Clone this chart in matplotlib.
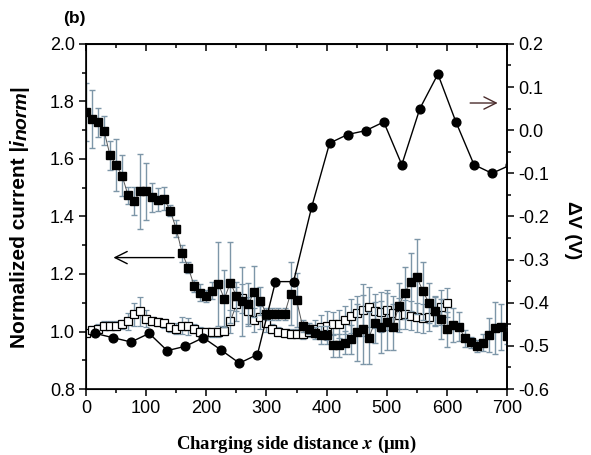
import numpy as np
import matplotlib.pyplot as plt
from matplotlib.ticker import MultipleLocator

plt.rcParams['font.family'] = ['Liberation Sans', 'DejaVu Sans']

# filled squares: normalized current, every 10 um
x_fill = np.arange(0, 701, 10)
i_fill = [1.763, 1.739, 1.728, 1.698, 1.612, 1.580, 1.542, 1.473, 1.454, 1.487,
          1.487, 1.467, 1.458, 1.461, 1.420, 1.357, 1.272, 1.222, 1.158, 1.135,
          1.123, 1.142, 1.165, 1.114, 1.170, 1.123, 1.105, 1.097, 1.139, 1.106,
          1.060, 1.060, 1.060, 1.060, 1.131, 1.110, 1.019, 1.010, 0.995, 0.988,
          0.988, 0.952, 0.953, 0.961, 0.973, 0.997, 1.008, 0.978, 1.031, 1.016,
          1.034, 1.014, 1.089, 1.135, 1.173, 1.190, 1.140, 1.100, 1.070, 1.044,
          1.007, 1.022, 1.017, 0.976, 0.962, 0.949, 0.961, 0.988, 1.011, 1.017,
          0.986]
e_fill = [.10, .10, .05, .05, .05, .09, .07, .03, .05, .13,
          .10, .05, .04, .04, .02, .03, .03, .02, .02, .03,
          .02, .03, .145, .10, .14, .05, .12, .07, .09, .05,
          .02, .02, .02, .02, .11, .095, .02, .02, .02, .03,
          .03, .04, .04, .04, .05, .10, .12, .09, .07, .09,
          .10, .08, .08, .09, .10, .13, .10, .07, .05, .07,
          .06, .06, .05, .03, .02, .02, .03, .06, .09, .08,
          .03]

# open squares: normalized current, every 10 um up to 600
x_open = np.arange(0, 601, 10)
i_open = [0.995, 1.005, 1.010, 1.020, 1.020, 1.020, 1.025, 1.035, 1.060, 1.070,
          1.045, 1.037, 1.033, 1.028, 1.015, 1.010, 1.020, 1.018, 1.010, 1.000,
          0.998, 0.997, 0.997, 1.003, 1.035, 1.095, 1.115, 1.070, 1.040, 1.050,
          1.030, 1.010, 1.000, 0.995, 0.993, 0.993, 0.990, 1.000, 1.010, 1.016,
          1.020, 1.027, 1.026, 1.040, 1.054, 1.065, 1.075, 1.085, 1.072, 1.068,
          1.075, 1.065, 1.058, 1.060, 1.055, 1.050, 1.046, 1.052, 1.073, 1.084,
          1.100]
e_open = [.01, .015, .015, .015, .015, .015, .015, .03, .04, .05,
          .03, .015, .015, .015, .015, .02, .03, .03, .015, .015,
          .015, .015, .015, .015, .04, .06, .05, .05, .04, .04,
          .03, .015, .015, .015, .015, .015, .015, .02, .03, .04,
          .05, .04, .05, .05, .06, .06, .09, .07, .06, .07,
          .07, .06, .06, .05, .05, .05, .05, .05, .05, .06,
          .05]

# filled circles: potential difference, right axis
x_dv = [15, 45, 75, 105, 135, 165, 195, 225, 255, 285, 315, 345,
        375, 405, 435, 465, 495, 525, 555, 585, 615, 645, 675, 705]
dv = [-0.471, -0.481, -0.491, -0.471, -0.511, -0.501, -0.481, -0.510,
      -0.540, -0.520, -0.351, -0.351, -0.179, -0.030, -0.010, -0.001,
      0.019, -0.080, 0.050, 0.130, 0.019, -0.080, -0.100, -0.081]

fig = plt.figure(figsize=(5.91, 4.55), dpi=100)
ax = fig.add_axes([0.1455, 0.145, 0.7125, 0.7585])
ebc = '#7d96a8'

ax.errorbar(x_open, i_open, yerr=e_open, fmt='s-', color='#555555', lw=0.7,
            ms=5.5, mfc='white', mec='black', mew=0.9,
            ecolor=ebc, elinewidth=1.0, capsize=2.5, capthick=1.0, zorder=3)
ax.errorbar(x_fill, i_fill, yerr=e_fill, fmt='s-', color='#555555', lw=0.7,
            ms=5.8, mfc='black', mec='black',
            ecolor=ebc, elinewidth=1.0, capsize=2.5, capthick=1.0, zorder=4)

ax.set_xlim(0, 700)
ax.set_ylim(0.8, 2.0)
ax.xaxis.set_major_locator(MultipleLocator(100))
ax.xaxis.set_minor_locator(MultipleLocator(50))
ax.yaxis.set_major_locator(MultipleLocator(0.2))
ax.yaxis.set_minor_locator(MultipleLocator(0.1))
ax.tick_params(which='both', direction='out', width=1.1, labelsize=13, pad=3)
ax.tick_params(which='major', length=5)
ax.tick_params(which='minor', length=3)
ax.yaxis.set_major_formatter(plt.FormatStrFormatter('%.1f'))
for s in ax.spines.values():
    s.set_linewidth(1.2)

# top axis: ticks pointing inward, no labels
top = ax.secondary_xaxis('top')
top.xaxis.set_major_locator(MultipleLocator(100))
top.xaxis.set_minor_locator(MultipleLocator(50))
top.tick_params(which='both', direction='in', width=1.1, labeltop=False)
top.tick_params(which='major', length=5)
top.tick_params(which='minor', length=3)
top.spines['top'].set_linewidth(1.2)

ax2 = ax.twinx()
ax2.plot(x_dv, dv, 'o-', color='black', lw=1.0, ms=6.3, zorder=5)
ax2.set_ylim(-0.6, 0.2)
ax2.yaxis.set_major_locator(MultipleLocator(0.1))
ax2.yaxis.set_minor_locator(MultipleLocator(0.05))
ax2.yaxis.set_major_formatter(plt.FormatStrFormatter('%.1f'))
ax2.tick_params(which='both', direction='out', width=1.1, labelsize=13, pad=3)
ax2.tick_params(which='major', length=5)
ax2.tick_params(which='minor', length=3)
ax2.spines['right'].set_linewidth(1.2)
ax2.set_xlim(0, 700)

# arrows pointing to each axis
ax.annotate('', xy=(41, 1.257), xytext=(151, 1.257),
            arrowprops=dict(arrowstyle='->', lw=1.0, color='black',
                            mutation_scale=22))
ax2.annotate('', xy=(689, 0.063), xytext=(634, 0.063),
             arrowprops=dict(arrowstyle='->', lw=1.0, color='#4a2c2c',
                             mutation_scale=22))

# left label built piece by piece so the subscript keeps a large size
ykw = dict(rotation=90, fontsize=15, fontweight='bold', ha='left', va='bottom')
t1 = fig.text(0.0165, 0.235, 'Normalized current |', **ykw)
t2 = ax.annotate('i', xy=(0, 1), xycoords=t1, fontstyle='italic',
                 annotation_clip=False, **ykw)
kw_sub = dict(ykw, fontsize=14)
t3 = ax.annotate('norm', xy=(0, 1), xycoords=t2, xytext=(3.0, 0),
                 textcoords='offset points', fontstyle='italic',
                 annotation_clip=False, **kw_sub)
ax.annotate('|', xy=(0, 1), xycoords=t3, xytext=(-3.0, 0),
            textcoords='offset points', annotation_clip=False, **ykw)

fig.text(0.968, 0.4945, 'ΔV (V)', rotation=270, ha='center', va='center',
         fontsize=14, fontweight='bold')

ax.set_xlabel(r'Charging side distance $\mathbfit{x}$ (μm)',
              family=['Liberation Serif', 'DejaVu Serif'], fontsize=13.5,
              fontweight='bold', math_fontfamily='stix', labelpad=12)

fig.text(0.107, 0.95, '(b)', fontsize=12.5, fontweight='bold')

fig.savefig('out.png', dpi=100)
